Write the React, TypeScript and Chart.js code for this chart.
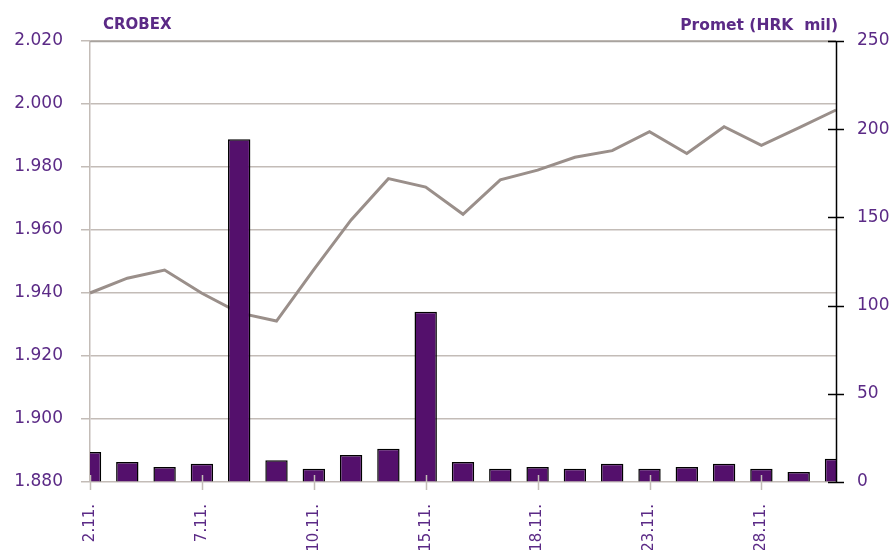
import React, { useEffect, useRef } from "react";
import { Chart, registerables } from "chart.js";

Chart.register(...registerables);

const days: string[] = [
  "2.11.", "3.11.", "4.11.", "7.11.", "8.11.", "9.11.", "10.11.", "11.11.", "14.11.", "15.11.",
  "16.11.", "17.11.", "18.11.", "21.11.", "22.11.", "23.11.", "24.11.", "25.11.", "28.11.", "29.11.", "30.11.",
];
const crobex: number[] = [
  1940.0, 1944.7, 1947.3, 1939.9, 1933.7, 1931.1, 1947.4, 1963.2, 1976.3, 1973.6,
  1965.0, 1975.9, 1979.0, 1983.1, 1985.2, 1991.2, 1984.3, 1992.8, 1986.9, 1992.4, 1998.1,
];
const promet: number[] = [
  17.0, 11.3, 8.5, 10.4, 194.3, 12.3, 7.5, 15.3, 18.9, 96.5,
  11.3, 7.5, 8.5, 7.5, 10.4, 7.5, 8.5, 10.4, 7.5, 5.7, 13.2,
];
const leftTicks = { min: 1880, max: 2020, step: 20 };
const rightTicks = { min: 0, max: 250, step: 50 };
const labelEvery = 3;
const leftTitle = "CROBEX";
const rightTitle = "Promet (HRK  mil)";

const TEXT = "#5B2A86";
const GRID = "#C3BCB7";
const FONT = "'DejaVu Sans', sans-serif";

const fmtThousands = (v: number) => {
  const s = Math.round(v).toString();
  return s.length > 3 ? s.slice(0, s.length - 3) + "." + s.slice(s.length - 3) : s;
};

const decorPlugin = {
  id: "decor",
  afterDraw(chart: any) {
    const ctx = chart.ctx;
    const area = chart.chartArea;
    const x = chart.scales.x;
    const yR = chart.scales.y1;
    ctx.save();
    ctx.strokeStyle = "#A8A39F";
    ctx.lineWidth = 1.5;
    ctx.beginPath();
    ctx.moveTo(area.left, Math.round(area.top) + 0.5);
    ctx.lineTo(area.right, Math.round(area.top) + 0.5);
    ctx.stroke();
    ctx.strokeStyle = "#000000";
    ctx.lineWidth = 1.5;
    ctx.beginPath();
    ctx.moveTo(area.right + 0.5, area.top);
    ctx.lineTo(area.right + 0.5, area.bottom + 1);
    ctx.stroke();
    yR.ticks.forEach((t: any) => {
      const py = Math.round(yR.getPixelForValue(t.value)) + 0.5;
      ctx.beginPath();
      ctx.moveTo(area.right - 8, py);
      ctx.lineTo(area.right + 8, py);
      ctx.stroke();
    });
    ctx.strokeStyle = GRID;
    ctx.lineWidth = 1.5;
    days.forEach((_, i) => {
      if (i % labelEvery !== 0) return;
      const px = Math.round(x.getPixelForValue(i)) + 0.5;
      ctx.beginPath();
      ctx.moveTo(px, area.bottom - 7);
      ctx.lineTo(px, area.bottom + 8);
      ctx.stroke();
    });
    ctx.fillStyle = TEXT;
    ctx.textBaseline = "alphabetic";
    ctx.font = "bold 15px " + FONT;
    ctx.textAlign = "left";
    ctx.fillText(leftTitle, 103, 29);
    ctx.font = "bold 15.5px " + FONT;
    ctx.textAlign = "right";
    ctx.fillText(rightTitle, 838, 30);
    ctx.restore();
  },
};

export default function App() {
  const ref = useRef<HTMLCanvasElement | null>(null);
  useEffect(() => {
    if (!ref.current) return;
    const chart = new Chart(ref.current, {
      type: "bar",
      data: {
        labels: days,
        datasets: [
          {
            type: "line",
            label: "CROBEX",
            data: crobex,
            yAxisID: "y",
            borderColor: "#9A8F8A",
            borderWidth: 3,
            pointRadius: 0,
            tension: 0,
            order: 1,
          } as any,
          {
            type: "bar",
            label: "Promet",
            data: promet,
            yAxisID: "y1",
            backgroundColor: "#54106C",
            borderColor: "#000000",
            borderWidth: 1.5,
            categoryPercentage: 1,
            barPercentage: 0.6,
            order: 0,
          } as any,
        ],
      },
      options: {
        animation: false,
        responsive: false,
        maintainAspectRatio: false,
        layout: { padding: { top: 41, left: 0, right: 0, bottom: 0 } },
        plugins: { legend: { display: false }, tooltip: { enabled: false } },
        scales: {
          x: {
            offset: false,
            afterFit(s: any) { s.height = 68; },
            grid: { display: false, drawOnChartArea: false },
            border: { display: false },
            ticks: {
              autoSkip: false,
              minRotation: 90,
              maxRotation: 90,
              padding: 14,
              color: TEXT,
              font: { family: FONT, size: 15 },
              callback: (_v: any, i: number) => (i % labelEvery === 0 ? days[i] : null),
            },
          },
          y: {
            position: "left",
            min: leftTicks.min,
            max: leftTicks.max,
            afterFit(s: any) { s.width = 90; },
            grid: { color: GRID, lineWidth: 1.5, tickLength: 9 },
            border: { display: true, color: GRID, width: 1.5 },
            ticks: {
              stepSize: leftTicks.step,
              padding: 18,
              color: TEXT,
              font: { family: FONT, size: 17 },
              callback: (v: any) => fmtThousands(Number(v)),
            },
          },
          y1: {
            position: "right",
            min: rightTicks.min,
            max: rightTicks.max,
            afterFit(s: any) { s.width = 59; },
            grid: { drawOnChartArea: false, drawTicks: true, tickLength: 8, color: "rgba(0,0,0,0)" },
            border: { display: false },
            ticks: {
              stepSize: rightTicks.step,
              padding: 13,
              color: TEXT,
              font: { family: FONT, size: 17 },
            },
          },
        },
      },
      plugins: [decorPlugin],
    });
    return () => chart.destroy();
  }, []);
  return (
    <div style={{ position: "fixed", left: 0, top: 0, width: 895, height: 550, background: "#fff" }}>
      <canvas ref={ref} width={895} height={550} style={{ width: 895, height: 550 }} />
    </div>
  );
}
